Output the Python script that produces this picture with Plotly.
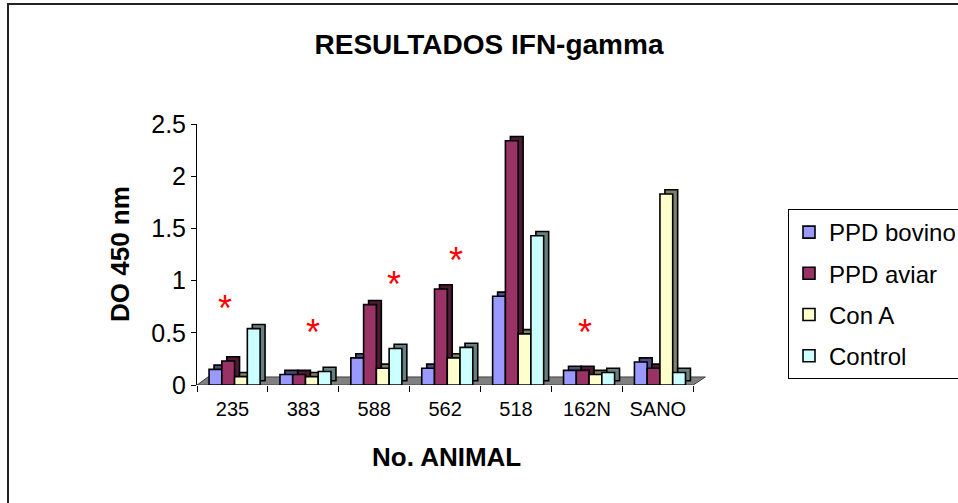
import plotly.graph_objects as go

# --- data -----------------------------------------------------------------
animals = ["235", "383", "588", "562", "518", "162N", "SANO"]
series_names = ["PPD bovino", "PPD aviar", "Con A", "Control"]
ppd_bovino = [0.15, 0.10, 0.26, 0.16, 0.85, 0.14, 0.22]
ppd_aviar = [0.23, 0.10, 0.77, 0.92, 2.34, 0.14, 0.16]
con_a = [0.08, 0.08, 0.16, 0.26, 0.49, 0.10, 1.83]
control = [0.54, 0.13, 0.35, 0.36, 1.43, 0.12, 0.12]
y_ticks = [0, 0.5, 1, 1.5, 2, 2.5]
y_tick_text = ["0", "0.5", "1", "1.5", "2", "2.5"]

# significance marks (category position, DO value)
star_x = [-0.10, 1.13, 2.28, 3.155, 4.97]
star_y = [0.73, 0.50, 0.96, 1.19, 0.50]

# --- styling ----------------------------------------------------------------
FONT = "Liberation Sans, Arial, sans-serif"
face_colors = ["#9999FF", "#993366", "#FFFFCC", "#CCFFFF"]
side_colors = ["#4D4D80", "#4C1A33", "#808066", "#668080"]

W, H = 958, 503
ML, MR, MT, MB = 197, 247, 124, 118
X_RANGE = [-0.5, 6.75]
Y_RANGE = [0, 2.5]
plot_w = W - ML - MR
plot_h = H - MT - MB


def px_to_paper_x(px):
    return (px - ML) / plot_w


def px_to_paper_y(py):
    return (H - MB - py) / plot_h


bar_w = 0.18
first_offset = -0.33
depth_dx = 0.07   # horizontal extrusion of the pseudo-3D bars (category units)
depth_dy = 0.04   # vertical extrusion (data units)

fig = go.Figure()

values = [ppd_bovino, ppd_aviar, con_a, control]
for i, (name, vals) in enumerate(zip(series_names, values)):
    off = first_offset + i * bar_w
    # extruded depth of the bar, drawn behind the front face
    fig.add_trace(go.Bar(
        x=animals, y=vals, base=depth_dy,
        offset=off + depth_dx, width=bar_w,
        marker=dict(color=side_colors[i], line=dict(color="black", width=1.6)),
        showlegend=False, hoverinfo="skip", legendgroup=name,
    ))
    # front face
    fig.add_trace(go.Bar(
        x=animals, y=vals, name=name,
        offset=off, width=bar_w,
        marker=dict(color=face_colors[i], line=dict(color="black", width=1.6)),
        legendgroup=name,
    ))

# gray floor under the bars
floor_h = 0.077
fig.add_shape(
    type="path", xref="x", yref="y", layer="below",
    path=f"M -0.5 0 L 6.5 0 L 6.67 {floor_h} L -0.345 {floor_h} Z",
    fillcolor="#808080", line=dict(color="#404040", width=1),
)

# outer frame of the chart area
fig.add_shape(
    type="rect", xref="paper", yref="paper",
    x0=px_to_paper_x(8), x1=px_to_paper_x(W + 20),
    y0=px_to_paper_y(H + 20), y1=px_to_paper_y(4),
    line=dict(color="#222222", width=2), fillcolor="rgba(0,0,0,0)",
)

for sx, sy in zip(star_x, star_y):
    fig.add_annotation(
        x=sx, y=sy, xref="x", yref="y", text="*", showarrow=False,
        font=dict(family=FONT, size=36, color="#FF0000"),
        xanchor="center", yanchor="middle",
    )

# axis titles
fig.add_annotation(
    x=px_to_paper_x(120), y=px_to_paper_y(254), xref="paper", yref="paper",
    text="<b>DO 450 nm</b>", textangle=-90, showarrow=False,
    font=dict(family=FONT, size=26, color="black"),
    xanchor="center", yanchor="middle",
)
fig.add_annotation(
    x=px_to_paper_x(446), y=px_to_paper_y(457), xref="paper", yref="paper",
    text="<b>No. ANIMAL</b>", showarrow=False,
    font=dict(family=FONT, size=26, color="black"),
    xanchor="center", yanchor="middle",
)

fig.update_layout(
    width=W, height=H,
    margin=dict(l=ML, r=MR, t=MT, b=MB, autoexpand=False),
    paper_bgcolor="white", plot_bgcolor="white",
    barmode="overlay",
    title=dict(
        text="<b>RESULTADOS IFN-gamma</b>",
        x=489 / W, y=1 - 44 / H, xref="container", yref="container",
        xanchor="center", yanchor="middle",
        font=dict(family=FONT, size=28, color="black"),
    ),
    legend=dict(
        x=px_to_paper_x(788), y=px_to_paper_y(209),
        xanchor="left", yanchor="top",
        bordercolor="black", borderwidth=1, bgcolor="white",
        font=dict(family=FONT, size=24, color="black"),
        traceorder="grouped", tracegroupgap=7,
        itemclick=False, itemdoubleclick=False,
    ),
    showlegend=True,
)

fig.update_xaxes(
    type="category", range=X_RANGE, categoryorder="array", categoryarray=animals,
    showline=False, showgrid=False, zeroline=False,
    tickson="boundaries", ticks="outside", ticklen=6, tickcolor="black",
    ticklabelstandoff=10,
    tickfont=dict(family=FONT, size=20, color="black"),
)
fig.update_yaxes(
    range=Y_RANGE, tickvals=y_ticks, ticktext=y_tick_text,
    showline=True, linecolor="black", linewidth=1, showgrid=False, zeroline=False,
    ticks="outside", ticklen=5, tickcolor="black",
    tickfont=dict(family=FONT, size=25, color="black"),
)

fig.write_html("out.html")
